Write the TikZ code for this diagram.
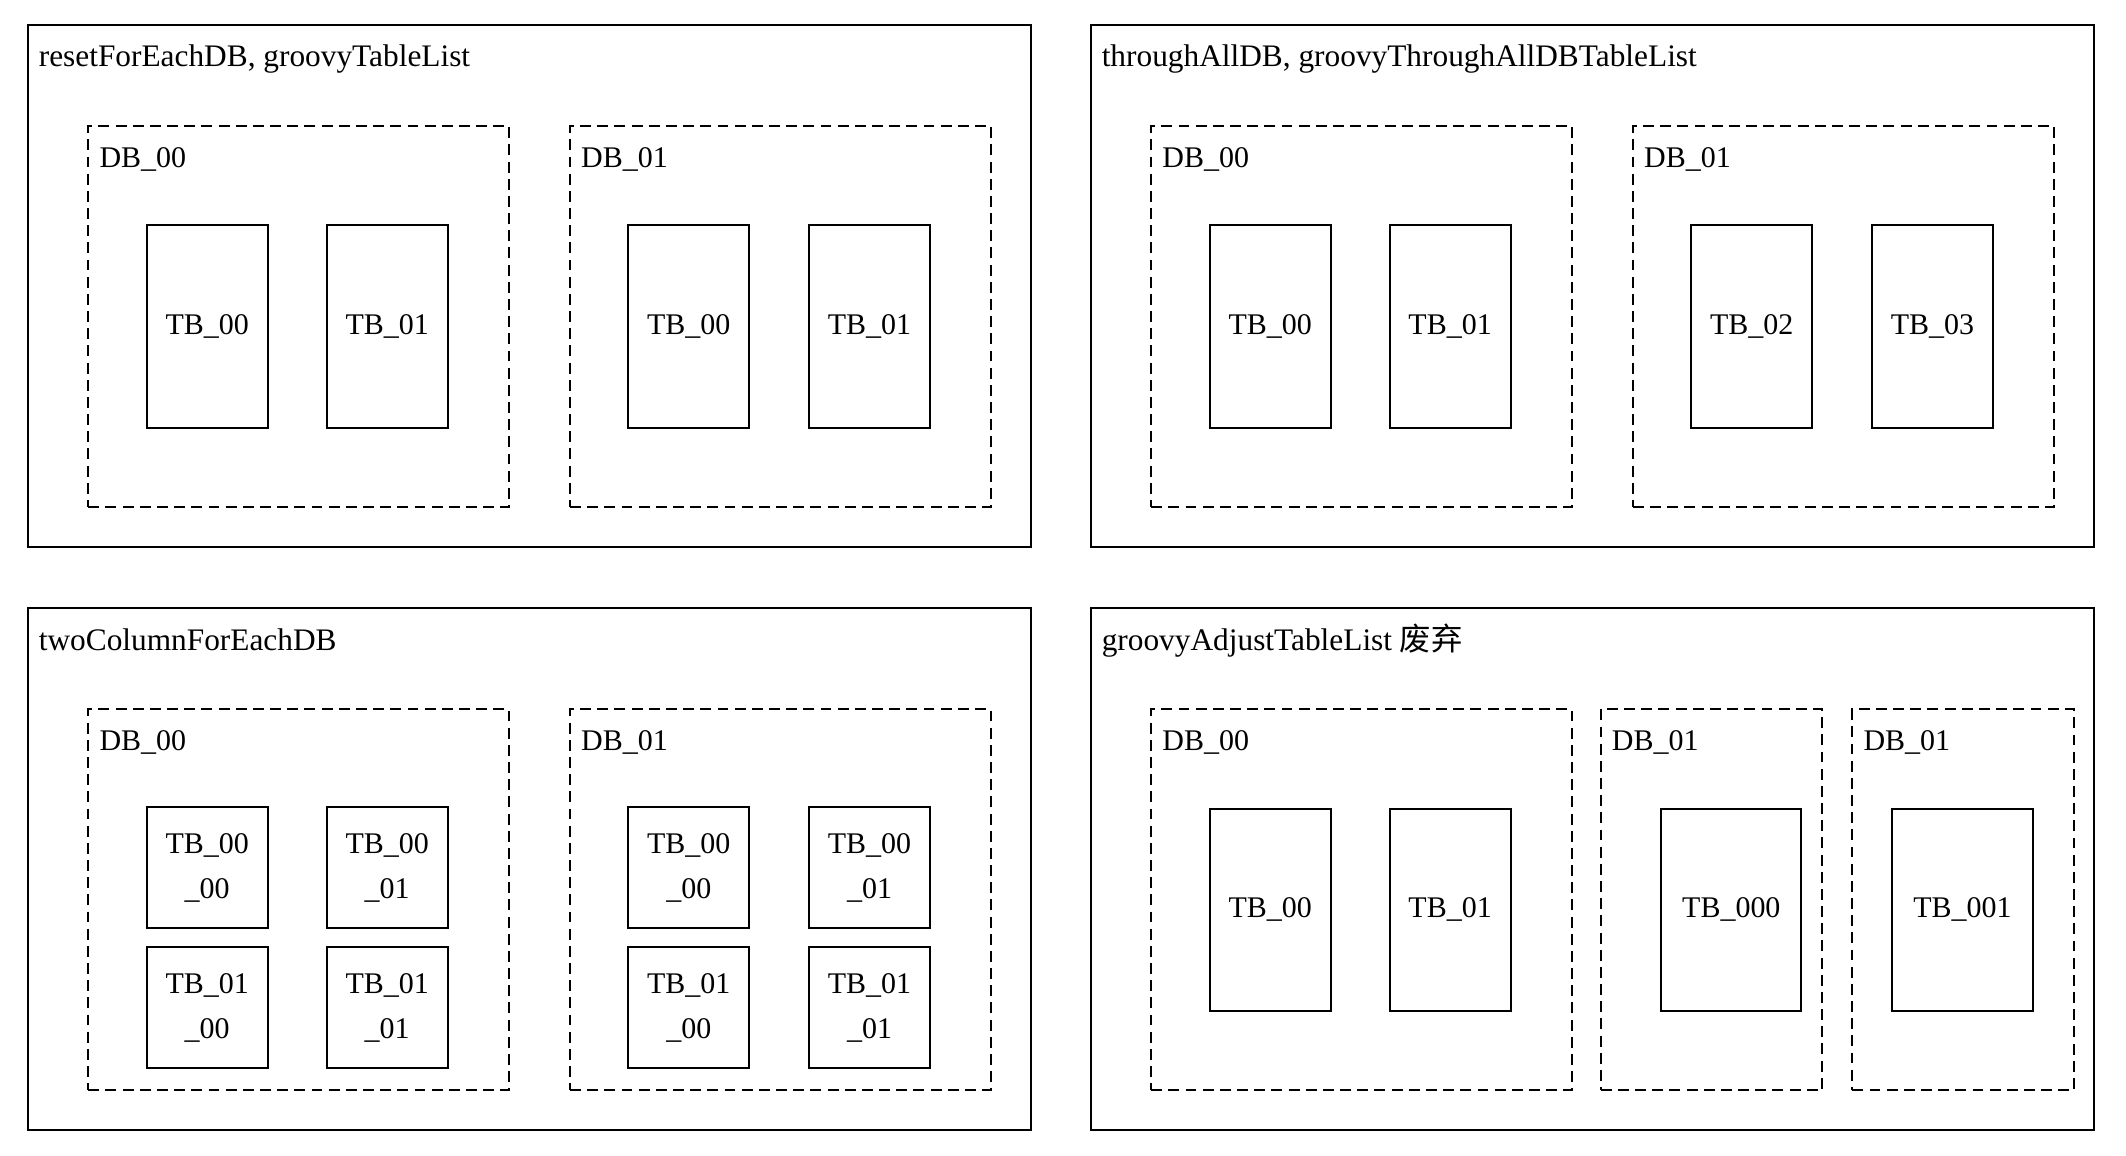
\documentclass[tikz,border=0pt]{standalone}
\usepackage{fontspec}
\setmainfont{Liberation Serif}
\newfontfamily\cjk{Noto Sans CJK SC}
\usepackage{tikz}

\begin{document}
\begin{tikzpicture}[x=1pt,y=-1pt,font=\fontsize{11}{16.5}\selectfont]
	\tikzstyle{panel}=[draw=black,line width=0.75pt,minimum width=368.07pt,minimum height=191.4pt,anchor=north west,inner sep=0pt]
	\tikzstyle{db}=[draw=black,line width=0.75pt,dash pattern=on 4pt off 2.3pt,minimum height=139.79pt,anchor=north west,inner sep=0pt]
	\tikzstyle{tb}=[draw=black,line width=0.75pt,minimum width=44.39pt,minimum height=74.26pt,inner sep=0pt]
	\tikzstyle{cell}=[tb,minimum height=44.39pt,align=center]
	\tikzstyle{lbl}=[anchor=base west,inner sep=0pt]
	\tikzstyle{title}=[lbl,font=\fontsize{11.5}{14}\selectfont]
	\useasboundingbox (0,0) rectangle (780,424);
	% resetForEachDB
	\node[panel] (pA) at (9.83,8.81) {};
	\node[title] (tA) at (14.05,24.48) {resetForEachDB, groovyTableList};
	\node[db,minimum width=154.46pt] (A0) at (32.03,45.87) {};
	\node[db,minimum width=154.46pt] (A1) at (208.76,45.87) {};
	\node[lbl] (lA0) at (36.32,61.39) {DB\_00};
	\node[lbl] (lA1) at (213.05,61.39) {DB\_01};
	\node[tb] (A00) at (76.02,119.79) {TB\_00};
	\node[tb] (A01) at (142.06,119.79) {TB\_01};
	\node[tb] (A10) at (252.71,119.79) {TB\_00};
	\node[tb] (A11) at (319.01,119.79) {TB\_01};
	% throughAllDB
	\node[panel] (pB) at (399.8,8.81) {};
	\node[title] (tB) at (404.02,24.48) {throughAllDB, groovyThroughAllDBTableList};
	\node[db,minimum width=154.46pt] (B0) at (422,45.87) {};
	\node[db,minimum width=154.46pt] (B1) at (598.73,45.87) {};
	\node[lbl] (lB0) at (426.29,61.39) {DB\_00};
	\node[lbl] (lB1) at (603.02,61.39) {DB\_01};
	\node[tb] (B00) at (466,119.79) {TB\_00};
	\node[tb] (B01) at (532.03,119.79) {TB\_01};
	\node[tb] (B10) at (642.68,119.79) {TB\_02};
	\node[tb] (B11) at (708.98,119.79) {TB\_03};
	% twoColumnForEachDB
	\node[panel] (pC) at (9.83,222.81) {};
	\node[title] (tC) at (14.05,238.48) {twoColumnForEachDB};
	\node[db,minimum width=154.46pt] (C0) at (32.03,259.87) {};
	\node[db,minimum width=154.46pt] (C1) at (208.76,259.87) {};
	\node[lbl] (lC0) at (36.32,275.39) {DB\_00};
	\node[lbl] (lC1) at (213.05,275.39) {DB\_01};
	\node[cell] (C000) at (76.02,318.38) {TB\_00\\\_00};
	\node[cell] (C001) at (142.06,318.38) {TB\_00\\\_01};
	\node[cell] (C010) at (76.02,369.75) {TB\_01\\\_00};
	\node[cell] (C011) at (142.06,369.75) {TB\_01\\\_01};
	\node[cell] (C100) at (252.71,318.38) {TB\_00\\\_00};
	\node[cell] (C101) at (319.01,318.38) {TB\_00\\\_01};
	\node[cell] (C110) at (252.71,369.75) {TB\_01\\\_00};
	\node[cell] (C111) at (319.01,369.75) {TB\_01\\\_01};
	% groovyAdjustTableList
	\node[panel] (pD) at (399.8,222.81) {};
	\node[title] (tD) at (404.02,238.48) {groovyAdjustTableList {\cjk 废弃}};
	\node[db,minimum width=154.46pt] (D0) at (422,259.87) {};
	\node[db,minimum width=81.3pt] (D1) at (586.91,259.87) {};
	\node[db,minimum width=81.34pt] (D2) at (679.22,259.87) {};
	\node[lbl] (lD0) at (426.29,275.39) {DB\_00};
	\node[lbl] (lD1) at (591.2,275.39) {DB\_01};
	\node[lbl] (lD2) at (683.51,275.39) {DB\_01};
	\node[tb] (D00) at (466,333.79) {TB\_00};
	\node[tb] (D01) at (532.03,333.79) {TB\_01};
	\node[tb,minimum width=51.36pt] (D10) at (635.2,333.79) {TB\_000};
	\node[tb,minimum width=51.73pt] (D20) at (720.02,333.79) {TB\_001};
\end{tikzpicture}
\end{document}
